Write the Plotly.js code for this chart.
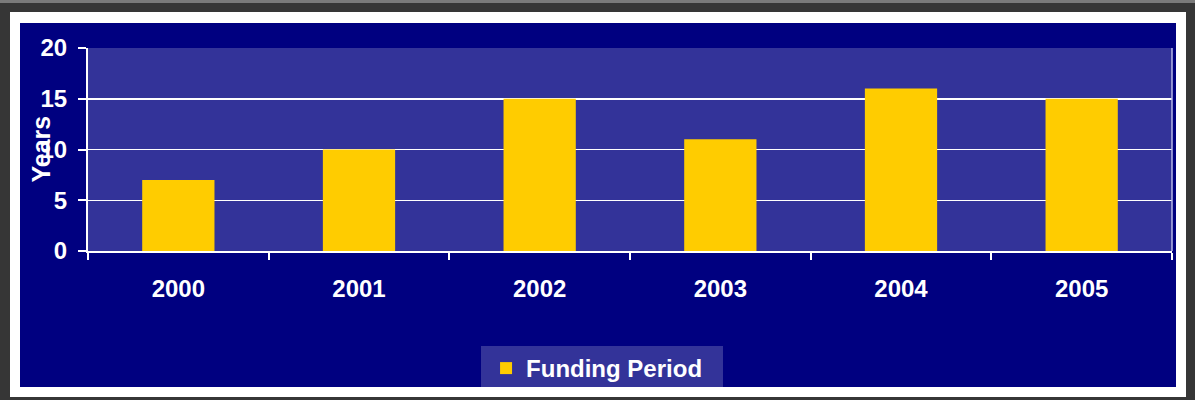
<!DOCTYPE html>
<html>
<head>
<meta charset="utf-8">
<script src="https://cdn.plot.ly/plotly-3.0.1.min.js"></script>
<style>
  html, body { margin:0; padding:0; }
  body { width:1195px; height:400px; background:#363636; position:relative; overflow:hidden; }
  #topline { position:absolute; left:0; top:0; width:1195px; height:3px; background:#7a7a7a; }
  #frame { position:absolute; left:10px; top:12px; width:1176px; height:385px; background:#ffffff; }
  #chart { position:absolute; left:20px; top:23px; width:1156px; height:364px; }
</style>
</head>
<body>
<div id="topline"></div>
<div id="frame"></div>
<div id="chart"></div>
<script>
const years = ['2000', '2001', '2002', '2003', '2004', '2005'];
const fundingPeriod = [7, 10, 15, 11, 16, 15];
const seriesName = 'Funding Period';
const yTitle = 'Years';

const font = 'Arial, "Liberation Sans", sans-serif';

const trace = {
  type: 'bar',
  x: years,
  y: fundingPeriod,
  name: seriesName,
  marker: { color: '#FFCC00', line: { width: 0 } },
  showlegend: true,
  hoverinfo: 'skip'
};

const layout = {
  width: 1156,
  height: 364,
  paper_bgcolor: '#000080',
  plot_bgcolor: '#333399',
  margin: { l: 68, r: 4, t: 25, b: 136, autoexpand: false },
  bargap: 0.6,
  font: { family: font, color: '#ffffff', size: 24, weight: 'bold' },
  xaxis: {
    type: 'category',
    automargin: false,
    tickson: 'boundaries',
    ticks: 'outside',
    ticklen: 7,
    tickwidth: 2,
    tickcolor: '#ffffff',
    showline: true,
    linecolor: '#ffffff',
    linewidth: 2,
    showgrid: false,
    ticklabelstandoff: 15,
    tickfont: { family: font, size: 24, color: '#ffffff', weight: 'bold' },
    fixedrange: true
  },
  yaxis: {
    range: [0, 20],
    automargin: false,
    dtick: 5,
    tick0: 0,
    ticks: 'outside',
    ticklen: 8,
    tickwidth: 2,
    tickcolor: '#ffffff',
    showline: true,
    linecolor: '#ffffff',
    linewidth: 2,
    showgrid: true,
    gridcolor: '#ffffff',
    gridwidth: 1.5,
    zeroline: false,
    ticklabelstandoff: 6,
    tickfont: { family: font, size: 24, color: '#ffffff', weight: 'bold' },
    fixedrange: true
  },
  shapes: [
    { type: 'line', xref: 'paper', yref: 'paper', x0: 1, x1: 1, y0: 0, y1: 1,
      line: { color: '#b8b8e8', width: 1.5 } }
  ],
  annotations: [
    { text: yTitle, xref: 'paper', yref: 'paper', x: 0, y: 0.5,
      xanchor: 'center', yanchor: 'middle', xshift: -48, textangle: -90,
      showarrow: false,
      font: { family: font, size: 25, color: '#ffffff', weight: 'bold' } }
  ],
  legend: {
    orientation: 'h',
    x: 0.3626, xanchor: 'left',
    y: -0.468, yanchor: 'top',
    bgcolor: '#333399',
    borderwidth: 0,
    indentation: 5,
    entrywidth: 192,
    font: { family: font, size: 24, color: '#ffffff', weight: 'bold' },
    itemclick: false,
    itemdoubleclick: false
  }
};

Plotly.newPlot('chart', [trace], layout, { displayModeBar: false, staticPlot: true });
</script>
</body>
</html>
